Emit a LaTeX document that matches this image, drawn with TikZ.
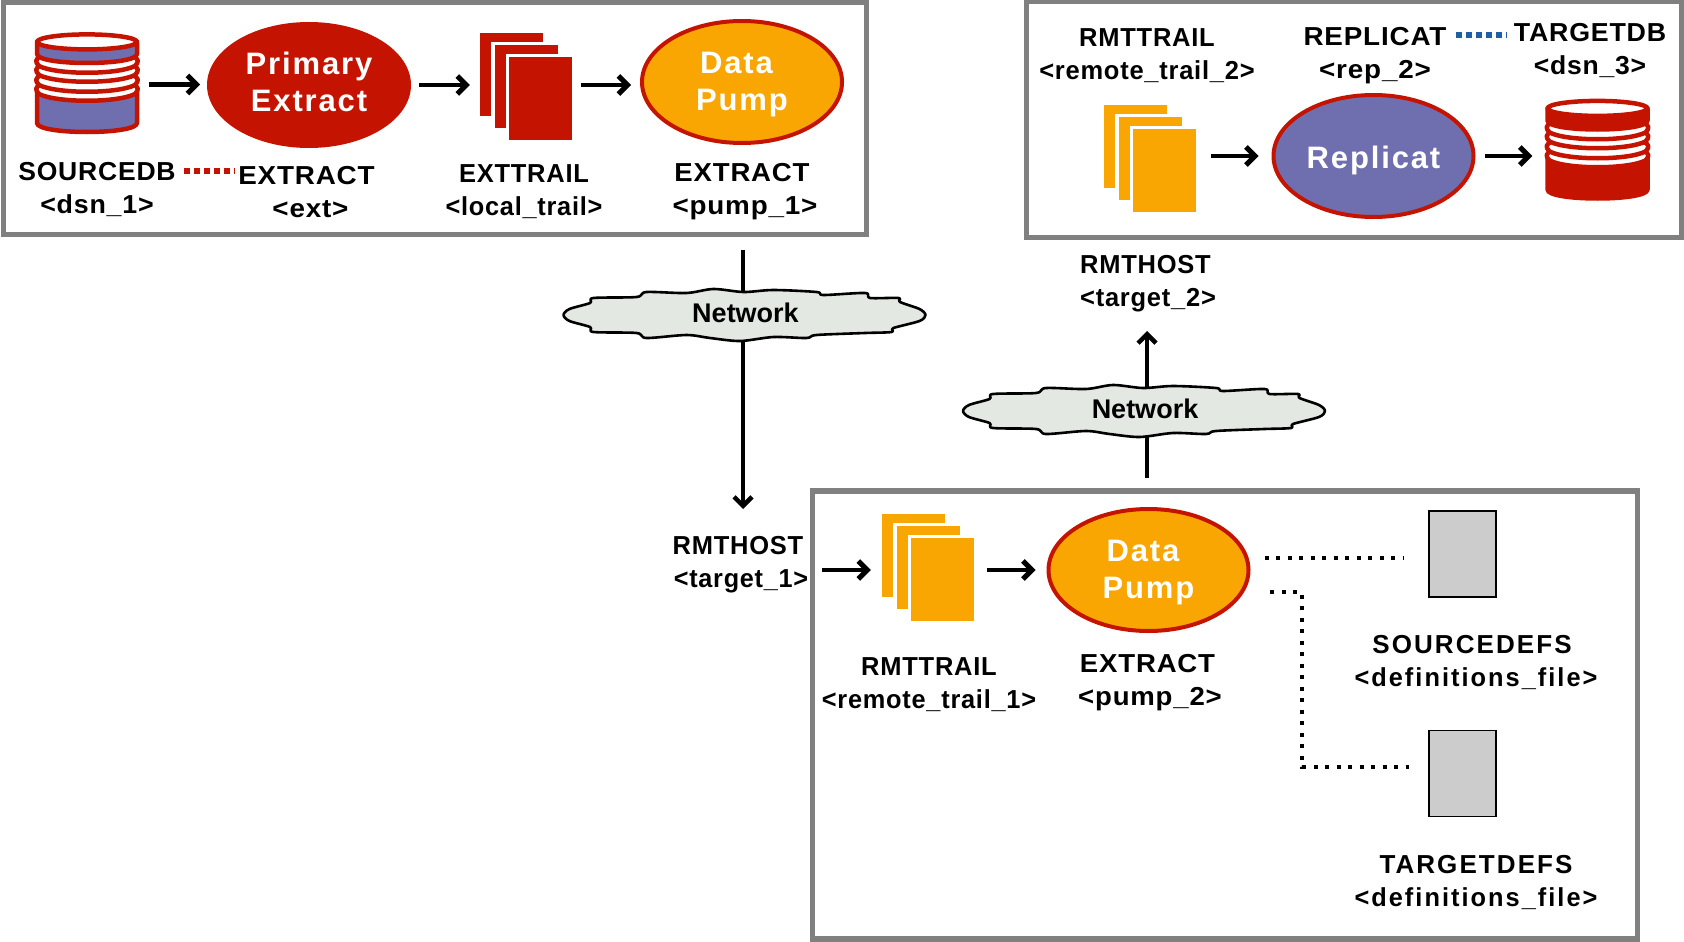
\documentclass[tikz,border=0pt]{standalone}
\usepackage{graphicx}
\usepackage{fontspec}
\setmainfont{Liberation Sans}
\newfontfamily\lsa{Liberation Sans}[LetterSpace=3,BoldFont={Liberation Sans Bold}]
\newfontfamily\lsb{Liberation Sans}[LetterSpace=8,BoldFont={Liberation Sans Bold}]
\newfontfamily\lsc{Liberation Sans}[LetterSpace=6,BoldFont={Liberation Sans Bold}]
\usetikzlibrary{arrows.meta,shapes.geometric}
\definecolor{cred}{HTML}{C41400}
\definecolor{cblue}{HTML}{6F6FB0}
\definecolor{corange}{HTML}{F9A602}
\definecolor{cframe}{HTML}{808080}
\definecolor{ccloud}{HTML}{E3E8E3}
\definecolor{cfile}{HTML}{CCCCCC}
\definecolor{cdotblue}{HTML}{1F5FA8}
\newcommand{\sx}[2]{\scalebox{#1}[1]{#2}}
\tikzset{
  x=1pt,y=-1pt,
  frame/.style={draw=cframe,line width=5pt,fill=white,inner sep=0pt},
  labw/.style={font=\lsa\fontsize{26}{33}\selectfont\bfseries,align=center,inner sep=0pt,text=black},
  labx/.style={font=\lsb\fontsize{26}{33}\selectfont\bfseries,align=center,inner sep=0pt,text=black},
  proc/.style={ellipse,line width=4pt,draw=cred,inner sep=0pt,minimum width=200pt,minimum height=122pt},
  proctext/.style={inner sep=0pt,align=center,text=white,font=\lsc\fontsize{31}{37}\selectfont\bfseries},
  flow/.style={line width=4.2pt,-{Straight Barb[length=9pt,width=18pt,line width=5pt]}},
  net/.style={line width=3.4pt,-{Straight Barb[length=9pt,width=18pt,line width=4.5pt]}},
  dots/.style={line width=4pt,dash pattern=on 4pt off 7.5pt},
  gfile/.style={rectangle,draw=black,line width=1.6pt,fill=cfile,minimum width=67pt,minimum height=86pt,inner sep=0pt},
  ghost/.style={rectangle,inner sep=0pt},
  dbline/.style={draw=cred,line width=4.5pt,line join=round},
  netlabel/.style={font=\fontsize{27}{30}\selectfont\bfseries,inner sep=0pt}
}
% straight-sided part of a database: top y, bottom y, fill
\newcommand{\dblayer}[3]{\path[dbline,fill=#3] (-50,#1) -- (-50,#2) .. controls (-50,#2+12) and (50,#2+12) .. (50,#2) -- (50,#1) -- cycle;}
% pinched ring of a database: y of its straight chord end
\newcommand{\dbring}[1]{\path[dbline,fill=white] (-46,#1-8) .. controls (-52,#1-5) and (-52,#1-2) .. (-48,#1+2) .. controls (-30,#1+11) and (30,#1+11) .. (48,#1+2) .. controls (52,#1-2) and (52,#1-5) .. (46,#1-8) -- cycle;}
\newcommand{\database}[4]{% name, x, y, body fill
  \node[ghost,minimum width=104pt,minimum height=101pt] (#1) at (#2,#3) {};
  \begin{scope}[shift={(#2,#3)}]
    \dblayer{8}{38.5}{#4}
    \dbring{7.5}
    \dbring{-1.5}
    \dbring{-11.5}
    \dbring{-20.5}
    \dblayer{-42.6}{-30.5}{#4}
    \path[dbline,fill=white] (0,-42.6) ellipse [x radius=50,y radius=7.5];
  \end{scope}}
\newcommand{\filestack}[4]{% name, center x, center y, colour
  \node[ghost,minimum width=92pt,minimum height=107pt] (#1) at (#2,#3) {};
  \begin{scope}[shift={(#2,#3)}]
    \foreach \d in {0,14.5,29}{
      \fill[white] (-46+\d-3.3,-53.5+\d*0.83-3.3) rectangle ++(69.6,89.6);
      \fill[#4] (-46+\d,-53.5+\d*0.83) rectangle ++(63,83);
    }
  \end{scope}}
\newcommand{\netcloud}[3]{% name, x, y
  \fill[ccloud,draw=black,line width=2.6pt,shift={(#2,#3)},line join=round]
    plot[smooth cycle,tension=0.5] coordinates {(-181,0)(-175,-6)(-154.5,-12)(-151,-17)(-108,-18)(-98,-23)(-58,-22)(-31,-26)(-1,-23)(29,-25)(72,-23)(79,-20)(120.5,-22)(125.5,-17)(154,-17)(155.5,-13)(175,-6)(181,0)(175,6)(149,13)(147,17)(120.5,18)(72,20)(62,23)(29,22)(-4.5,26)(-34.5,23)(-58,20)(-98,23)(-108,18)(-151,17)(-154.5,12)(-175,6)};
  \node[netlabel] (#1) at (#2+1,#3-2) {Network};}
\begin{document}
\begin{tikzpicture}
\useasboundingbox (0,0) rectangle (1684,942);
\fill[white] (0,0) rectangle (1684,942);
% frames
\node[frame,minimum width=863pt,minimum height=231pt] (box1) at (434.5,118.5) {};
\node[frame,minimum width=655pt,minimum height=235pt] (box2) at (1353.5,119.5) {};
\node[frame,line width=5.5pt,minimum width=825pt,minimum height=448pt] (box3) at (1225,715) {};
% network connectors (behind the clouds)
\coordinate (upA) at (743,250);
\coordinate (dnB) at (743,509);
\draw[net] (upA) -- (dnB);
\coordinate (upC) at (1147,478);
\coordinate (dnD) at (1147,331);
\draw[net] (upC) -- (dnD);
\netcloud{net1}{744.5}{315}
\netcloud{net2}{1144}{411}
% box 1
\database{db1}{87}{84.5}{cblue}
\node[proc,fill=cred] (pe) at (309,85) {};
\node[proctext] (pet) at ([yshift=3pt]pe.center) {Primary\\Extract};
\filestack{f1}{526}{86.5}{cred}
\node[proc,fill=corange] (dp1) at (742,82) {};
\node[proctext] (dp1t) at ([yshift=-2.7pt]dp1.center) {Data\hspace*{11pt}\\Pump};
\node[labw] (t1) at (97,190) {\sx{1.02}{SOURCEDB}\\\sx{1.03}{{<}dsn\_1{>}}};
\node[labw] (t2) at (310.5,192) {\sx{1.07}{EXTRACT}\hspace*{8pt}\\\sx{1.07}{{<}ext{>}}};
\node[labw] (t3) at (524,192) {\sx{0.98}{EXTTRAIL}\\\sx{0.973}{{<}local\_trail{>}}};
\node[labw] (t4) at (745,192) {\sx{1.06}{EXTRACT}\hspace*{6pt}\\\sx{1.07}{{<}pump\_1{>}}};
\draw[flow,shorten <=10pt,shorten >=7pt] (db1.east) -- (db1.east -| pe.west);
\draw[flow,shorten <=8pt,shorten >=10pt] (pe.east) -- (pe.east -| f1.west);
\coordinate (dp1in) at ([yshift=-3pt]dp1.west);
\draw[flow,shorten <=9pt,shorten >=9pt] (f1.east |- dp1in) -- (dp1in);
\coordinate (redY) at (0,171);
\draw[cred,line width=6pt,dash pattern=on 6pt off 4pt,shorten <=8pt,shorten >=3pt] (t1.east |- redY) -- (t2.west |- redY);
% box 2
\filestack{f2}{1150}{158.5}{corange}
\node[proc,fill=cblue] (rp) at (1373.5,156) {};
\node[proctext] (rpt) at ([yshift=-4pt]rp.center) {Replicat};
\database{db2}{1597.5}{151}{cred}
\node[labw] (t5) at (1147,55.5) {\sx{0.98}{RMTTRAIL}\\\sx{0.98}{{<}remote\_trail\_2{>}}};
\node[labw] (t6) at (1375,55.5) {\sx{1.07}{REPLICAT}\\\sx{1.07}{{<}rep\_2{>}}};
\node[labw] (t7) at (1590,50.5) {\sx{1.03}{TARGETDB}\\\sx{1.02}{{<}dsn\_3{>}}};
\draw[flow,shorten <=15pt,shorten >=13pt] (f2.east |- rp.west) -- (rp.west);
\draw[flow,shorten <=9pt,shorten >=13pt] (rp.east) -- (rp.east -| db2.west);
\coordinate (blueY) at (0,35);
\draw[cdotblue,line width=6pt,dash pattern=on 6pt off 4pt,shorten <=9pt,shorten >=7pt] (t6.east |- blueY) -- (t7.west |- blueY);
\node[labw] (t8) at (1145.5,283.5) {\sx{0.98}{RMTHOST}\\\hspace*{5pt}\sx{0.98}{{<}target\_2{>}}};
% box 3
\node[labw] (t9) at (741,564.5) {\sx{0.98}{RMTHOST}\hspace*{6pt}\\\sx{0.97}{{<}target\_1{>}}};
\filestack{f3}{928}{567.5}{corange}
\node[proc,fill=corange] (dp2) at (1148.5,570) {};
\node[proctext] (dp2t) at ([yshift=-2.7pt]dp2.center) {Data\hspace*{11pt}\\Pump};
\node[labw] (t10) at (929,684.5) {\sx{0.98}{RMTTRAIL}\\\sx{0.975}{{<}remote\_trail\_1{>}}};
\node[labw] (t11) at (1150,682.5) {\sx{1.06}{EXTRACT}\hspace*{5pt}\\\sx{1.06}{{<}pump\_2{>}}};
\draw[flow,shorten <=13pt,shorten >=11pt] (dp2.west -| t9.east) -- (dp2.west -| f3.west);
\draw[flow,shorten <=13pt,shorten >=11pt] (dp2.west -| f3.east) -- (dp2.west);
\node[gfile] (sd) at (1462.5,554) {};
\node[gfile] (td) at (1462.5,773.5) {};
\node[labx] (t12) at (1476,663) {SOURCEDEFS\hspace*{8pt}\\\sx{0.975}{{<}definitions\_file{>}}};
\node[labx] (t13) at (1476,882.5) {TARGETDEFS\\\sx{0.975}{{<}definitions\_file{>}}};
\coordinate (dA) at ([yshift=-4pt]sd.west);
\draw[dots,shorten <=14pt,shorten >=24pt] (dp2.east |- dA) -- (dA);
\coordinate (dB) at (1270,592);
\coordinate (elbow) at (1302,767);
\draw[dots,shorten >=19pt] (dB) -- (elbow |- dB) -- (elbow) -- (elbow -| td.west);
\end{tikzpicture}
\end{document}
